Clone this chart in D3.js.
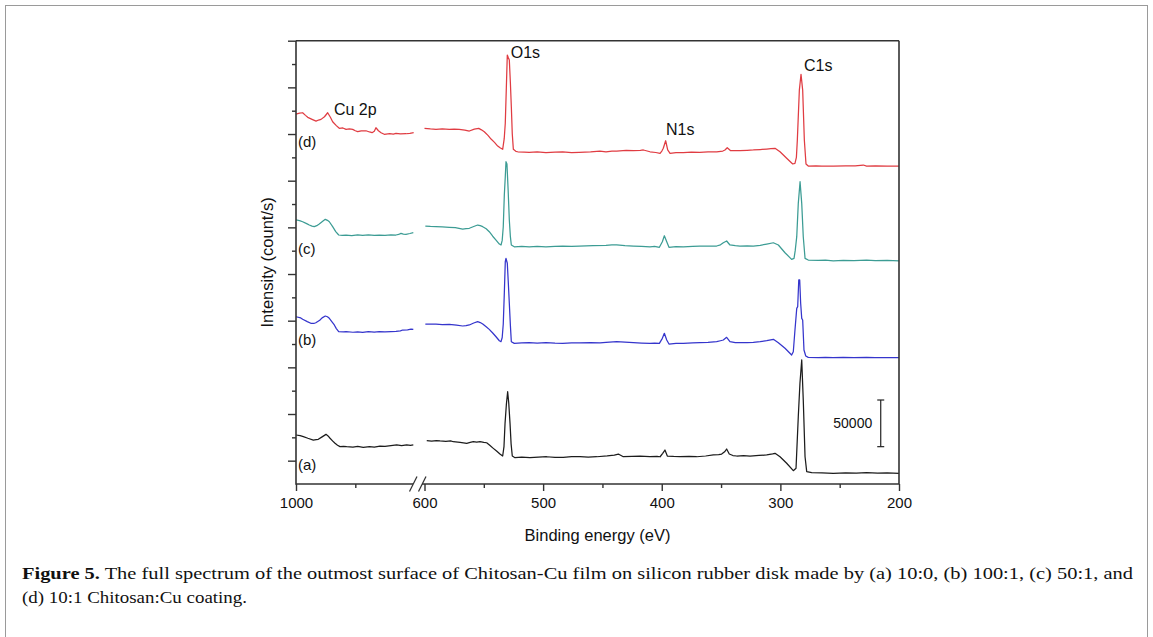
<!DOCTYPE html>
<html>
<head>
<meta charset="utf-8">
<script src="https://cdn.jsdelivr.net/npm/d3@7"></script>
<style>
  body { margin: 0; background: #fff; }
  svg text { font-family: "Liberation Sans", Arial, sans-serif; }
  .caption { font-family: "Liberation Serif", "Times New Roman", serif; font-size: 17px; fill: #111; }
</style>
</head>
<body>
<svg id="chart" width="1153" height="637"></svg>
<script>
// XPS survey spectra, binding energy (eV) vs intensity (thousands of counts, stacked)
const spectrumA = [
  [1000, 27.5], [996.5, 26.8], [993.8, 25.7], [990, 24.0], [985.4, 22.1], [983, 22.6], [981.2, 22.9], [978, 25.5],
  [974.7, 28.2], [973, 26.5], [971.3, 24.0], [969, 21.0], [967.1, 18.6], [965, 16.5], [962.9, 15.0], [960, 15.3],
  [957.3, 15.0], [952, 14.6], [948, 15.2], [943.3, 14.3], [938, 15.0], [934, 14.6], [929.2, 15.7], [925, 15.2],
  [920, 16.0], [915.1, 16.8], [911, 16.2], [906.7, 16.8], [903.5, 16.3], [901.1, 16.8],
  [598.1, 21.4], [594, 21.0], [590, 21.6], [586.9, 21.1], [582, 20.6], [578, 21.2], [575.7, 20.3], [570, 19.6],
  [564.4, 18.6], [561.5, 19.5], [558.9, 20.3], [556, 19.8], [553.2, 20.3], [550, 19.6], [547.6, 19.2], [545, 16.5],
  [542.0, 13.2], [539, 10.0], [536.4, 7.1], [534.1, 5.0], [533, 15], [532.1, 40.0], [531, 60], [529.9, 73.9],
  [529, 62], [527.9, 40.0], [527, 18], [526.0, 5.0], [523.7, 3.2], [518, 3.8], [511.1, 3.2], [504, 3.9],
  [497.0, 4.2], [490, 3.5], [483.0, 3.6], [476, 4.3], [468.9, 4.2], [462, 3.8], [454.8, 4.2], [446, 5.1],
  [440, 6.0], [436.6, 7.1], [432.4, 4.2], [425, 4.6], [418.3, 5.0], [410, 4.3], [404, 4.6], [401.4, 4.2],
  [399.2, 7.9], [397.3, 11.4], [395.3, 5.0], [390, 4.5], [384.7, 4.2], [377, 4.6], [370.6, 4.2], [363, 5.0],
  [356.5, 6.1], [352, 6.5], [349.5, 7.1], [347, 9.5], [345.3, 12.5], [343.1, 7.1], [340, 5.5], [336.8, 5.0],
  [331, 5.4], [325.6, 5.0], [318, 5.6], [311.5, 6.1], [306.5, 7.2], [304.5, 7.9], [300.3, 4.2], [294.7, -2.8],
  [289.1, -10.7], [286.8, -8.2], [284.9, 47.1], [283.5, 82.9], [282.0, 107.9], [280.7, 65.0], [279.2, 4.2],
  [277.8, -11.8], [273.6, -12.9], [265, -13.2], [255.4, -13.5], [245, -13.1], [236, -13.4], [227.3, -12.9],
  [218, -13.3], [210, -13.0], [200, -13.5]
];

const spectrumB = [
  [1000, 154.2], [996, 153.0], [994.4, 151.5], [990.5, 149], [987.5, 147.2], [985, 147.0], [983.3, 147.8], [980, 150.5],
  [978, 153], [975.3, 155.0], [973.5, 154.2], [971.9, 152.5], [969.5, 148.5], [967.7, 145.4], [966, 141.5], [964.0, 138.2],
  [960, 138.0], [957.8, 138.2], [952, 137.6], [948, 138.1], [943.8, 137.5], [939, 138.3], [934, 137.8], [929.8, 138.2],
  [925, 137.9], [920, 138.4], [915.7, 138.6], [912, 139.1], [910.1, 140.0], [906, 140.2], [903, 140.9], [901.1, 140.7],
  [599.3, 146.4], [595, 146.2], [590.3, 146.4], [585, 145.9], [579.1, 146.1], [573, 145.2], [567.8, 144.3], [565, 144.7],
  [562.2, 145.4], [558.5, 147.5], [555.2, 148.9], [553, 148.0], [550.9, 146.4], [548, 143.5], [545.4, 140.7], [542.5, 136.8],
  [539.7, 132.8], [536.9, 128.5], [535.5, 127.5], [534.5, 132], [533.6, 146.4], [532.7, 180], [531.9, 213.2], [531.3, 216.8],
  [530.2, 211.5], [529.4, 192], [528.5, 168.6], [527.6, 145], [526.8, 127.5], [524.3, 125.7], [518, 126.2], [511.7, 126.4],
  [505, 126.0], [497.6, 126.5], [490, 125.9], [483.5, 125.7], [476, 126.3], [469.5, 126.1], [460, 126.5], [452, 126.2],
  [447, 126.8], [438, 127.5], [431, 126.9], [423.9, 126.4], [417, 126.0], [409.9, 125.7], [406, 125.9], [402, 125.7],
  [399.5, 131.1], [397.8, 136.5], [395.8, 129.3], [393.9, 125.0], [388, 125.6], [381.8, 125.7], [374, 126.2], [367.9, 126.4],
  [361, 126.8], [353.7, 127.5], [350.5, 128.5], [348.1, 129.3], [345.3, 132.2], [342.5, 127.5], [338, 126.6], [334.1, 126.4],
  [328, 126.6], [322.8, 126.8], [317, 127.6], [311.5, 128.6], [305.9, 130.0], [301.7, 126.4], [296.1, 120.4], [290.5, 113.2],
  [289.1, 116.7], [287.7, 140.0], [286.2, 163.2], [285.4, 165.0], [284.5, 193.6], [283.7, 193.6], [282.9, 168.6], [282.0, 152.5],
  [281.2, 150.7], [280.1, 118.6], [278.6, 112.1], [276.5, 110.7], [268, 110.5], [262, 110.7], [255.4, 110.3], [247, 110.6],
  [238, 110.4], [227.3, 110.7], [220, 110.3], [210, 110.5], [200, 110.3]
];

const spectrumC = [
  [1000, 257.9], [997, 257.2], [994.4, 256.0], [991, 254], [988.8, 252.5], [986.5, 251.3], [984.6, 250.7], [982.5, 251.8],
  [980.4, 253.6], [977.5, 256.5], [975.3, 258.6], [973.5, 257.5], [971.9, 256.0], [969.1, 250.7], [966.5, 245.5], [964.0, 241.8],
  [961, 241.3], [957.8, 241.8], [953, 241.2], [948, 241.9], [943.8, 241.5], [939, 241.9], [934, 241.3], [929.8, 241.8],
  [925, 241.4], [920, 242.0], [915.7, 241.8], [913.5, 242.4], [911.5, 243.6], [909.5, 242.8], [907.3, 242.5], [904, 243.4],
  [901.1, 244.3],
  [599.3, 251.4], [595, 251.0], [590.3, 250.7], [585, 250.4], [579.1, 250.0], [574, 249.6], [567.8, 248.2], [565, 248.6],
  [562.2, 249.0], [558.5, 250.9], [555.2, 252.5], [553, 251.8], [550.9, 250.7], [548, 248.5], [545.4, 245.3], [542.5, 240.5],
  [539.7, 236.4], [536.9, 232.1], [535.5, 231.1], [534.5, 236], [533.6, 250.7], [532.7, 285], [531.9, 304.2], [531.3, 320.3],
  [530.5, 318], [529.5, 290], [528.5, 257.9], [527.6, 240], [526.8, 231.1], [524.3, 229.2], [518, 229.5], [511.7, 229.2],
  [505, 229.7], [497.6, 229.2], [490, 229.6], [483.5, 230.0], [476, 229.7], [469.5, 230.0], [458, 230.4], [447, 230.7],
  [442, 231.2], [438, 231.1], [431, 230.4], [423.9, 230.0], [417, 229.6], [409.9, 229.2], [406, 229.6], [402, 228.6],
  [399.5, 234.6], [397.8, 241.0], [395.8, 234.6], [393.9, 228.6], [388, 229.4], [381.8, 229.2], [374, 229.7], [367.9, 230.0],
  [361, 229.8], [353.7, 230.0], [350.5, 231.3], [348.1, 233.5], [345.3, 235.4], [342.5, 231.1], [338, 230.3], [334.1, 230.0],
  [328, 230.2], [322.8, 230.0], [317, 230.8], [311.5, 232.1], [305.9, 233.5], [301.7, 231.1], [296.1, 222.8], [290.5, 215.7],
  [288.5, 216.8], [287.5, 225], [286.2, 240.0], [284.9, 275.7], [283.4, 298.9], [282.0, 275.7], [280.7, 240.0], [279.2, 216.8],
  [276.5, 215.0], [268, 214.6], [262, 214.8], [255.4, 214.2], [247, 214.5], [238, 214.3], [227.3, 215.0], [220, 214.4],
  [210, 214.6], [200, 214.2]
];

const spectrumD = [
  [1000, 371.4], [997, 372.5], [994.4, 372.8], [992, 370], [990.1, 367.9], [986, 365.5], [983.1, 363.9], [981, 365],
  [978.9, 365.7], [976, 368.5], [973.3, 372.8], [971, 368], [969.1, 363.2], [966, 359], [963.5, 356.1], [960.5, 356.5],
  [957.8, 355.0], [955, 355.6], [952.2, 355.0], [950, 353.5], [948.0, 352.5], [945, 353.4], [941.0, 353.5], [938, 352.2],
  [935.9, 351.4], [934, 353], [932.6, 356.7], [930.5, 353.5], [928.3, 351.4], [925.6, 349.7], [921, 350.4], [918, 350.0],
  [915.7, 350.7], [912, 350.1], [907.3, 350.3], [904, 350.8], [900.8, 351.4],
  [600, 356.1], [595, 355.4], [590.3, 355.0], [585, 355.5], [579.1, 355.0], [575, 355.3], [570.7, 355.0], [566, 354.2],
  [562.2, 353.2], [558, 355.3], [554.3, 356.1], [552, 354.5], [549.6, 352.5], [546.5, 348.5], [543.9, 344.6], [541, 341],
  [538.3, 337.1], [536, 335], [534.1, 333.6], [532.8, 345], [531.9, 361.5], [531, 400], [530.2, 434.6], [529.4, 432],
  [528.5, 429.3], [527.6, 405], [526.8, 379.2], [526, 350], [525.1, 333.6], [523, 331.5], [521.4, 331.0], [516, 330.6],
  [511.7, 330.4], [505, 330.9], [497.6, 330.0], [490, 330.7], [483.5, 331.0], [476, 330.2], [469.5, 330.4], [460, 330.8],
  [452.1, 331.8], [447, 331.0], [442, 331.6], [438, 331.8], [430, 332.4], [423.9, 332.1], [418, 332.6], [415.5, 332.9],
  [409.9, 331.0], [405, 330.2], [401.4, 329.3], [399.8, 332], [398.7, 334.7], [396.7, 342.8], [395, 333], [393, 329.3],
  [388, 330.0], [381.8, 330.0], [375, 330.5], [367.9, 330.4], [361, 330.9], [353.7, 331.0], [348.5, 331.8], [346.7, 332.9],
  [344.8, 335.3], [341.9, 332.1], [338, 332.2], [334.1, 332.1], [328, 332.6], [322.8, 332.9], [317, 333.4], [311.5, 333.9],
  [308, 334.3], [304.5, 334.7], [300.3, 331.0], [294.7, 324.0], [289.6, 317.9], [287.7, 318.6], [286.5, 325], [285.7, 343.6],
  [284.0, 397.1], [282.6, 414.0], [281.2, 397.1], [279.8, 343.6], [278.4, 317.9], [276.5, 315.7], [270, 315.9], [265, 315.6],
  [255.4, 315.7], [245, 315.9], [237, 315.8], [230.1, 316.8], [227.3, 315.7], [220, 315.8], [210, 315.6], [200, 315.7]
];

const seriesNames = ['(a)', '(b)', '(c)', '(d)'];
const seriesColors = ['#1c1c1c', '#3535cc', '#3c9c94', '#e03c42'];
const seriesData = [spectrumA, spectrumB, spectrumC, spectrumD];
const seriesLabelY = [-10, 124, 221.4, 336];   // label baselines, kcounts

const majorTicks = [1000, 600, 500, 400, 300, 200];
const minorTicks = [950, 550, 450, 350, 250];

const peakLabels = [
  { text: 'Cu 2p', ev: 968, k: 370.3 },
  { text: 'O1s', ev: 527.3, k: 431.4 },
  { text: 'N1s', ev: 396.4, k: 348.9 },
  { text: 'C1s', ev: 280.1, k: 417 }
];

const scaleBar = { ev: 215.4, from: 15, to: 65, label: '50000', labelEv: 255.4, labelK: 35 };

const svg = d3.select('#chart');

// outer figure border
svg.append('rect').attr('x', 5.5).attr('y', 5.5).attr('width', 1142).attr('height', 700)
  .attr('fill', 'none').attr('stroke', '#9a9a9a').attr('stroke-width', 1);

const plotL = 296, plotR = 899, plotT = 40.7, plotB = 484;

// broken axis: 1000-900 and 600-200 share the same eV/px, with a gap between
const x = d3.scaleLinear()
  .domain([1000, 900, 600, 200])
  .range([plotL, plotL + 100 * (plotR - 424.5) / 400, 424.5, plotR]);
const y = d3.scaleLinear().domain([-25, 450]).range([plotB, plotT]);

const line = d3.line().x(d => x(d[0])).y(d => y(d[1]));

const plot = svg.append('g');

seriesData.forEach((data, i) => {
  const hi = data.filter(d => d[0] >= 900);
  const lo = data.filter(d => d[0] <= 600);
  [hi, lo].forEach(part => {
    plot.append('path').datum(part)
      .attr('d', line)
      .attr('fill', 'none')
      .attr('stroke', seriesColors[i])
      .attr('stroke-width', 1.25)
      .attr('stroke-linejoin', 'round');
  });
  svg.append('text').attr('x', x(998.3)).attr('y', y(seriesLabelY[i]))
    .attr('font-size', '15px').attr('fill', '#111').text(seriesNames[i]);
});

// frame
const frameColor = '#333';
svg.append('line').attr('x1', plotL).attr('x2', plotR).attr('y1', plotT).attr('y2', plotT)
  .attr('stroke', frameColor).attr('stroke-width', 1.6);
svg.append('line').attr('x1', plotR).attr('x2', plotR).attr('y1', plotT).attr('y2', plotB)
  .attr('stroke', frameColor).attr('stroke-width', 1.6);
svg.append('line').attr('x1', plotL).attr('x2', plotL).attr('y1', plotT).attr('y2', plotB + 0.8)
  .attr('stroke', frameColor).attr('stroke-width', 1.6);
// bottom axis, interrupted at the break
svg.append('line').attr('x1', plotL).attr('x2', 413).attr('y1', plotB).attr('y2', plotB)
  .attr('stroke', frameColor).attr('stroke-width', 1.6);
svg.append('line').attr('x1', 422).attr('x2', plotR).attr('y1', plotB).attr('y2', plotB)
  .attr('stroke', frameColor).attr('stroke-width', 1.6);
[409.5, 418.5].forEach(x0 => {
  svg.append('line').attr('x1', x0).attr('y1', plotB + 7.5).attr('x2', x0 + 7.5).attr('y2', plotB - 7.5)
    .attr('stroke', frameColor).attr('stroke-width', 1.3);
});

// x ticks
const xMajor = svg.append('g').attr('transform', `translate(0,${plotB})`)
  .call(d3.axisBottom(x).tickValues(majorTicks).tickSize(7).tickPadding(6).tickFormat(d3.format('d')));
const xMinor = svg.append('g').attr('transform', `translate(0,${plotB})`)
  .call(d3.axisBottom(x).tickValues(minorTicks).tickSize(4).tickFormat(''));
[xMajor, xMinor].forEach(g => {
  g.select('.domain').remove();
  g.selectAll('line').attr('stroke', frameColor).attr('stroke-width', 1.4);
});
xMajor.selectAll('text').attr('font-size', '15px').attr('fill', '#111')
  .attr('font-family', '"Liberation Sans", Arial, sans-serif');

// y ticks (no labels)
const yMajor = svg.append('g').attr('transform', `translate(${plotL},0)`)
  .call(d3.axisLeft(y).tickValues(d3.range(0, 451, 50)).tickSize(8).tickFormat(''));
const yMinor = svg.append('g').attr('transform', `translate(${plotL},0)`)
  .call(d3.axisLeft(y).tickValues(d3.range(25, 450, 50)).tickSize(4).tickFormat(''));
[yMajor, yMinor].forEach(g => {
  g.select('.domain').remove();
  g.selectAll('line').attr('stroke', frameColor).attr('stroke-width', 1.4);
});

// axis titles
svg.append('text').attr('x', (plotL + plotR) / 2).attr('y', 541).attr('text-anchor', 'middle')
  .attr('font-size', '16.5px').attr('fill', '#111').text('Binding energy (eV)');
svg.append('text').attr('transform', `translate(273,${(plotT + plotB) / 2}) rotate(-90)`)
  .attr('text-anchor', 'middle').attr('font-size', '16.5px').attr('fill', '#111').text('Intensity (count/s)');

// peak labels
peakLabels.forEach(p => {
  svg.append('text').attr('x', x(p.ev)).attr('y', y(p.k))
    .attr('font-size', '16px').attr('fill', '#111').text(p.text);
});

// 50000 counts scale bar
const bx = x(scaleBar.ev);
svg.append('line').attr('x1', bx).attr('x2', bx).attr('y1', y(scaleBar.from)).attr('y2', y(scaleBar.to))
  .attr('stroke', '#222').attr('stroke-width', 1.2);
[scaleBar.from, scaleBar.to].forEach(v => {
  svg.append('line').attr('x1', bx - 3.5).attr('x2', bx + 3.5).attr('y1', y(v)).attr('y2', y(v))
    .attr('stroke', '#222').attr('stroke-width', 1.2);
});
svg.append('text').attr('x', x(scaleBar.labelEv)).attr('y', y(scaleBar.labelK))
  .attr('font-size', '14px').attr('fill', '#111').text(scaleBar.label);

// caption
const cap1 = svg.append('text').attr('class', 'caption').attr('x', 22).attr('y', 579)
  .attr('textLength', 1111).attr('lengthAdjust', 'spacingAndGlyphs');
cap1.append('tspan').attr('font-weight', 'bold').text('Figure 5.');
cap1.append('tspan').text(' The full spectrum of the outmost surface of Chitosan-Cu film on silicon rubber disk made by (a) 10:0, (b) 100:1, (c) 50:1, and');
svg.append('text').attr('class', 'caption').attr('x', 22).attr('y', 603)
  .attr('textLength', 225).attr('lengthAdjust', 'spacingAndGlyphs')
  .text('(d) 10:1 Chitosan:Cu coating.');
</script>
</body>
</html>
